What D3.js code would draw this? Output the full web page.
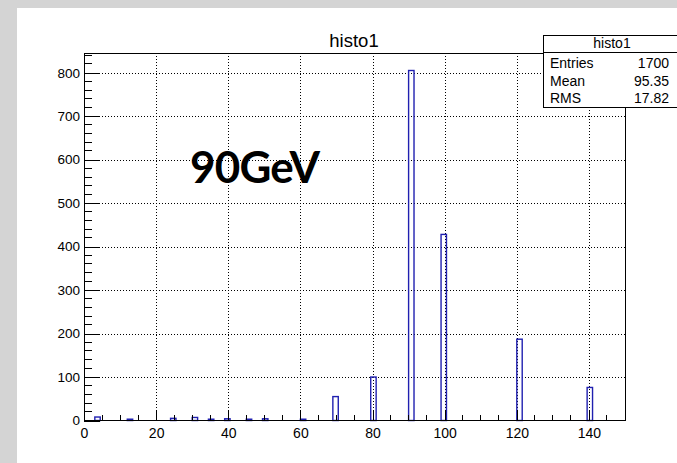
<!DOCTYPE html>
<html><head><meta charset="utf-8">
<script src="https://cdn.jsdelivr.net/npm/d3@7"></script>
<style>
html,body{margin:0;padding:0;background:#d4d4d4;}
svg{display:block;}
text{font-family:"Liberation Sans",Arial,Helvetica,sans-serif;}
</style></head>
<body>
<svg id="c" width="677" height="463"></svg>
<script>
// ---- data ----
const title = "histo1";
const nBins = 100;
const xDomain = [0, 150];
const binLow = [3, 12, 24, 30, 34.5, 39, 45, 49.5, 60, 69, 79.5, 90, 99, 120, 139.5];
const counts = [8, 3, 5, 7, 3, 4, 3, 4, 3, 55, 100, 805, 428, 187, 76];
const xMajorTicks = [0, 20, 40, 60, 80, 100, 120, 140];
const yMajorTicks = [0, 100, 200, 300, 400, 500, 600, 700, 800];
const statLabels = ["Entries", "Mean", "RMS"];
const statValues = ["1700", "95.35", "17.82"];
const annotation = "90GeV";

// ---- layout ----
const svg = d3.select("#c");
const L = 84, R = 625, T = 53, B = 420.5;
const binW = (xDomain[1] - xDomain[0]) / nBins;
const yMax = d3.max(counts) * 1.05;
const x = d3.scaleLinear().domain(xDomain).range([L, R]);
const y = d3.scaleLinear().domain([0, yMax]).range([B, T]);

// white canvas
svg.append("rect").attr("x", 17).attr("y", 8).attr("width", 660).attr("height", 455).attr("fill", "#fff");

// title
svg.append("text").attr("x", 354).attr("y", 47).attr("text-anchor", "middle")
  .attr("font-size", 18.5).attr("fill", "#000").text(title);

// grid
const g = svg.append("g");
g.selectAll("line.gx").data(xMajorTicks.filter(d => d > 0)).join("line")
  .attr("x1", d => Math.round(x(d)) + 0.5).attr("x2", d => Math.round(x(d)) + 0.5)
  .attr("y1", T).attr("y2", B)
  .attr("stroke", "#000").attr("stroke-dasharray", "1,2").attr("stroke-width", 1);
g.selectAll("line.gy").data(yMajorTicks.filter(d => d > 0)).join("line")
  .attr("x1", L).attr("x2", R)
  .attr("y1", d => Math.round(y(d)) + 0.5).attr("y2", d => Math.round(y(d)) + 0.5)
  .attr("stroke", "#000").attr("stroke-dasharray", "1,2").attr("stroke-width", 1);

// histogram bars (outline)
svg.append("g").selectAll("rect").data(binLow).join("rect")
  .attr("x", d => x(d))
  .attr("y", (d, i) => y(counts[i]))
  .attr("width", d => x(d + binW) - x(d))
  .attr("height", (d, i) => y(0) - y(counts[i]))
  .attr("fill", "none").attr("stroke", "#2020b0").attr("stroke-width", 1.4);

// axes (ticks inside)
const xAxis = d3.axisBottom(x).tickValues(xMajorTicks).tickSize(-11).tickPadding(6)
  .tickFormat(d3.format("d"));
const gx = svg.append("g").attr("transform", `translate(0,${B})`).call(xAxis);
const xMinor = d3.range(5, 150, 5).filter(v => v % 20 !== 0);
gx.selectAll("line.minor").data(xMinor).join("line").attr("class", "minor")
  .attr("x1", d => x(d)).attr("x2", d => x(d)).attr("y1", 0).attr("y2", -6).attr("stroke", "#000");

const yAxis = d3.axisLeft(y).tickValues(yMajorTicks).tickSize(-16).tickPadding(4)
  .tickFormat(d3.format("d"));
const gy = svg.append("g").attr("transform", `translate(${L},0)`).call(yAxis);
const yMinor = d3.range(20, 845, 20).filter(v => v % 100 !== 0);
gy.selectAll("line.minor").data(yMinor).join("line").attr("class", "minor")
  .attr("x1", 0).attr("x2", 8).attr("y1", d => y(d)).attr("y2", d => y(d)).attr("stroke", "#000");

[gx, gy].forEach(a => {
  a.selectAll("text").attr("font-size", 13.5).attr("fill", "#000")
    .style("font-family", "'Liberation Sans',Arial,sans-serif");
  a.selectAll("line").attr("stroke", "#000").attr("shape-rendering", "crispEdges");
  a.select(".domain").remove();
});
gx.selectAll(".tick text").attr("y", 8).attr("font-size", 14);

// frame
svg.append("rect").attr("x", L).attr("y", T).attr("width", R - L).attr("height", B - T)
  .attr("fill", "none").attr("stroke", "#000").attr("stroke-width", 1).attr("shape-rendering", "crispEdges");

// annotation
svg.append("text").attr("x", 190).attr("y", 183).attr("font-size", 44)
  .style("font-weight", "700").style("font-family", "Lato,'Open Sans',sans-serif")
  .style("letter-spacing", "-0.8px")
  .attr("fill", "#000").text(annotation);

// stats box
const sb = svg.append("g");
const bx = 543, by = 35, bw = 140, bh = 72;
sb.append("rect").attr("x", bx + 0.5).attr("y", by + 0.5).attr("width", bw).attr("height", bh)
  .attr("fill", "#fff").attr("stroke", "#000").attr("shape-rendering", "crispEdges");
sb.append("line").attr("x1", bx).attr("x2", bx + bw).attr("y1", by + 17.5).attr("y2", by + 17.5)
  .attr("stroke", "#000").attr("shape-rendering", "crispEdges");
sb.append("text").attr("x", 612).attr("y", by + 13).attr("text-anchor", "middle")
  .attr("font-size", 14).text(title);
statLabels.forEach((s, i) => {
  sb.append("text").attr("x", bx + 7).attr("y", by + 33 + i * 17.5).attr("font-size", 14).text(s);
  sb.append("text").attr("x", 669).attr("y", by + 33 + i * 17.5).attr("text-anchor", "end")
    .attr("font-size", 14).text(statValues[i]);
});
</script>
</body></html>
